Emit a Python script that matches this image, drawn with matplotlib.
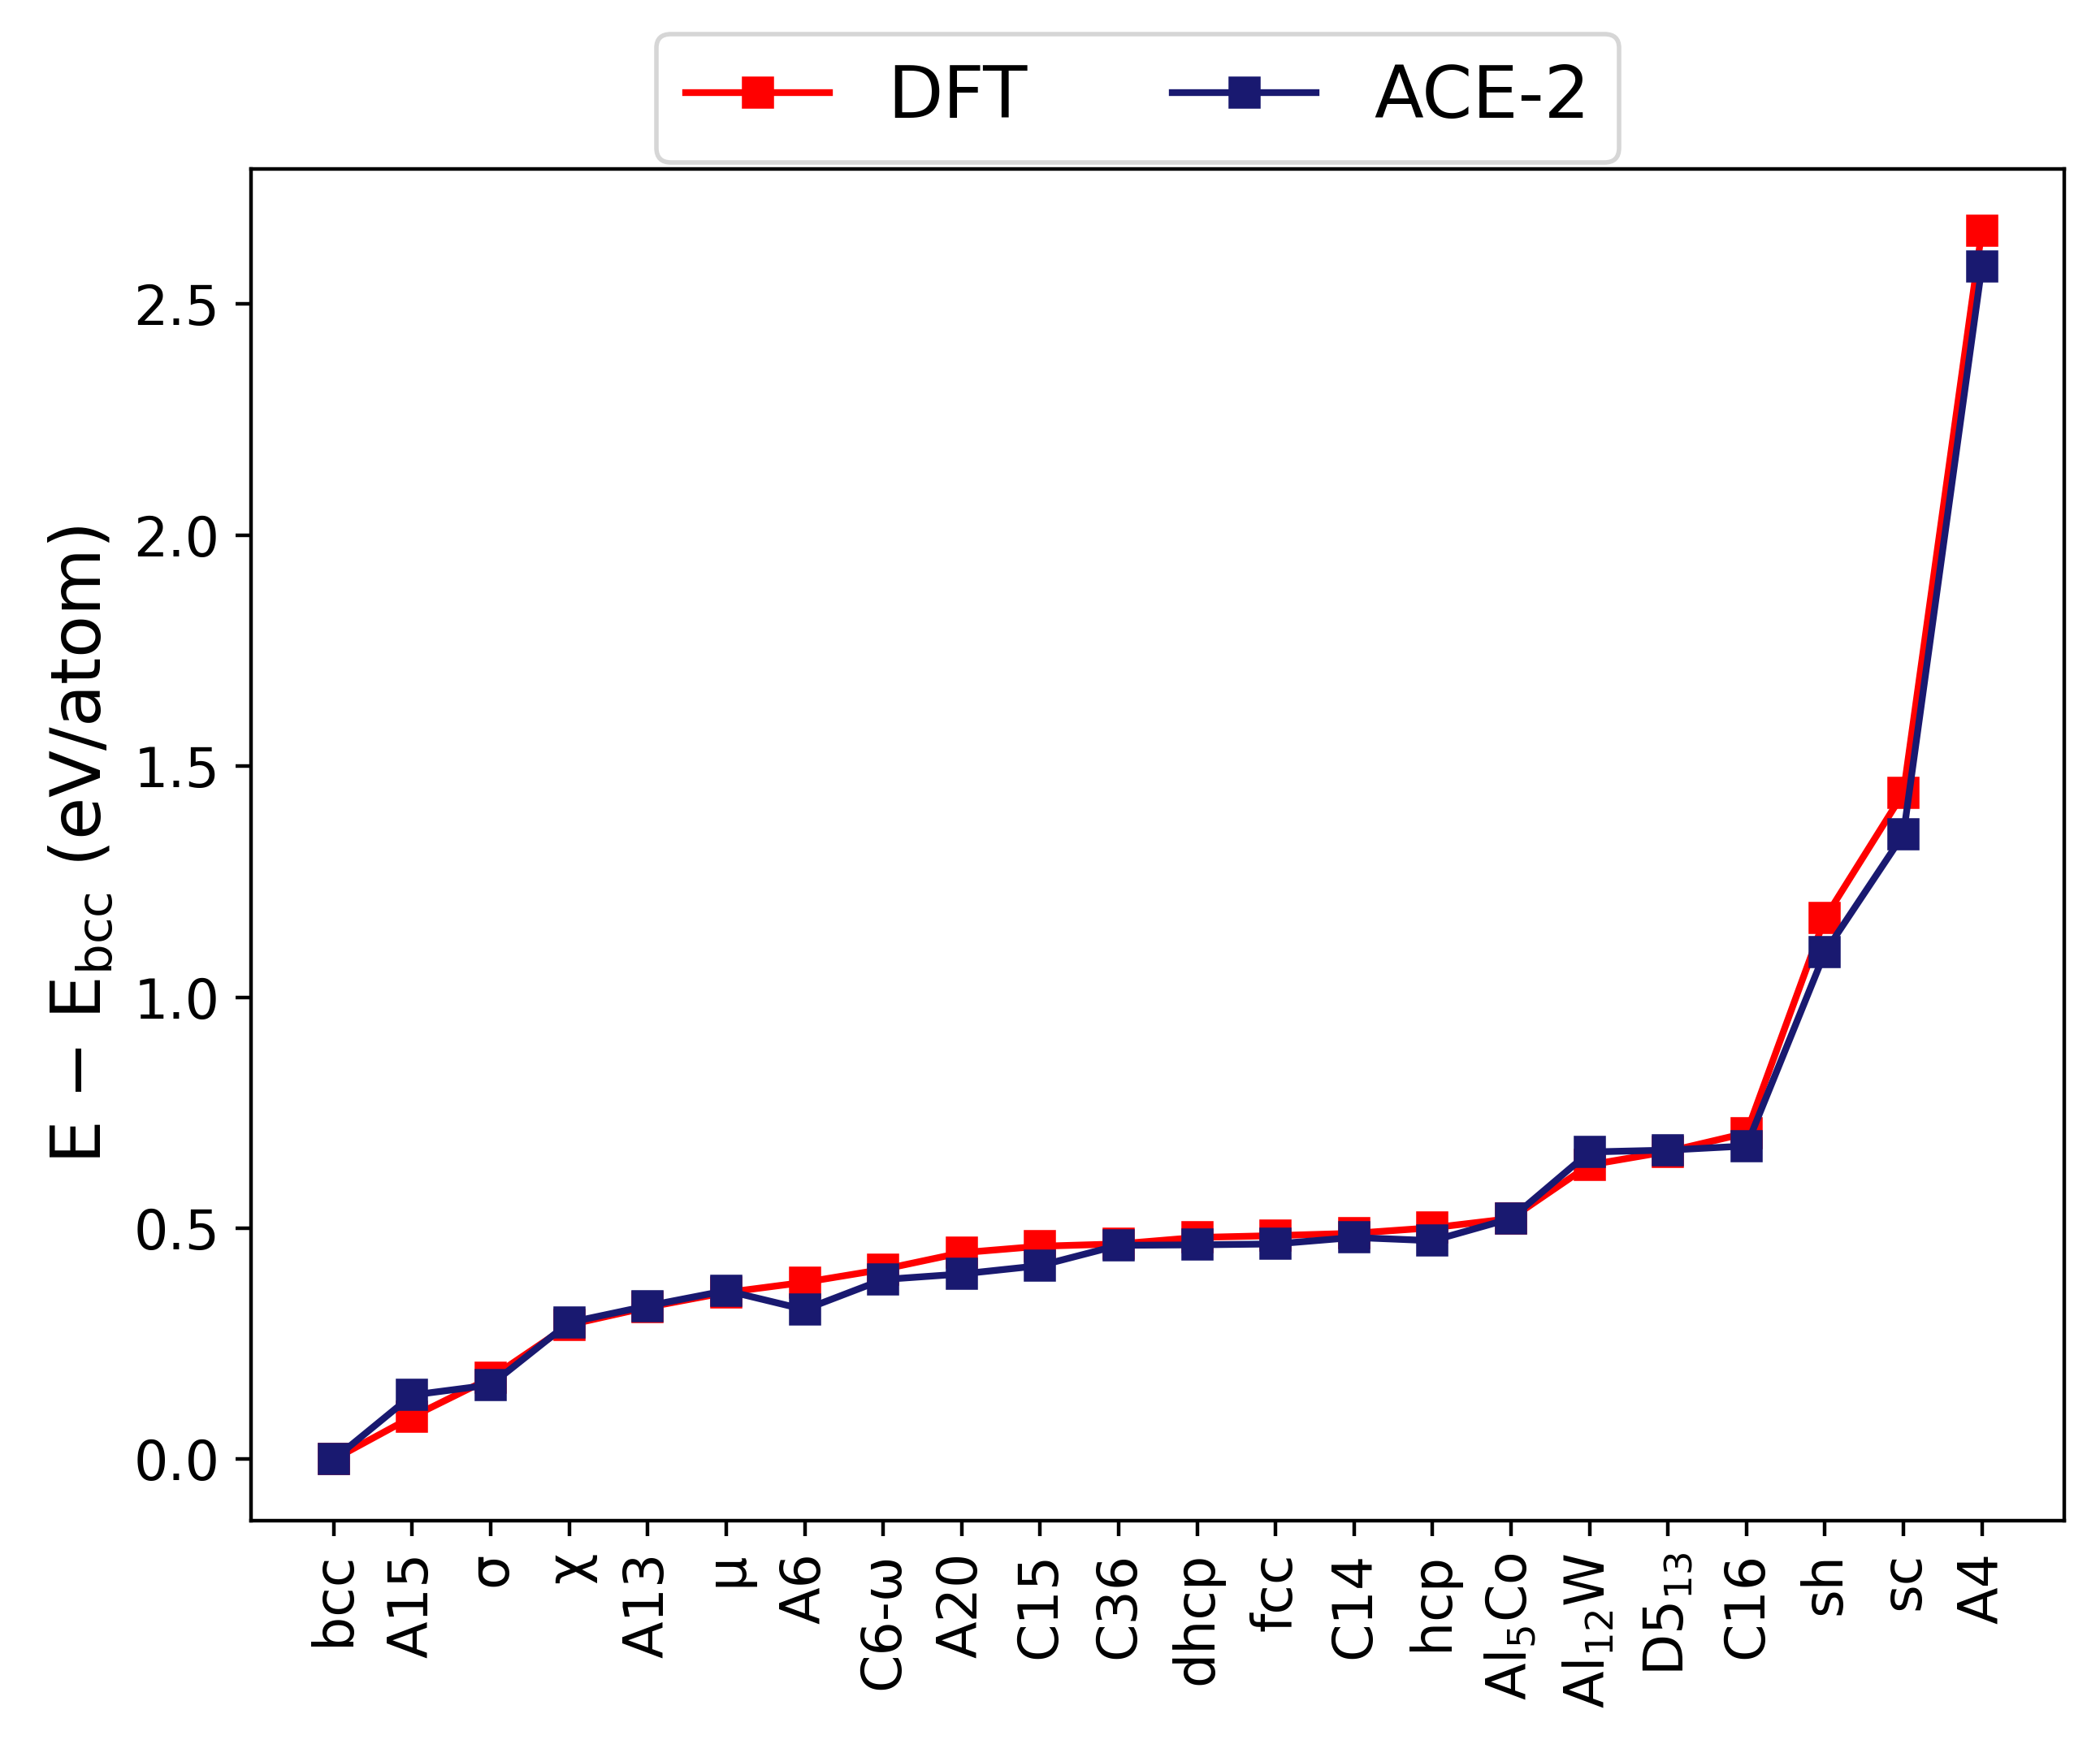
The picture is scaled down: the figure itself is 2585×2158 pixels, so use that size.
import numpy as np
import matplotlib
matplotlib.use('Agg')
from matplotlib import pyplot as plt

structures = ['bcc', 'A15', 'σ', 'χ', 'A13', 'μ', 'A6', 'C6-ω', 'A20', 'C15',
              'C36', 'dhcp', 'fcc', 'C14', 'hcp', 'Al$_5$Co', 'Al$_{12}$W',
              'D5$_{13}$', 'C16', 'sh', 'sc', 'A4']

dft = [0.0, 0.092, 0.176, 0.291, 0.329, 0.361, 0.383, 0.411, 0.447, 0.461,
       0.466, 0.480, 0.484, 0.489, 0.501, 0.521, 0.637, 0.666, 0.706,
       1.171, 1.442, 2.659]
ace2 = [0.0, 0.139, 0.161, 0.296, 0.332, 0.365, 0.324, 0.389, 0.401, 0.419,
        0.463, 0.464, 0.466, 0.480, 0.473, 0.521, 0.665, 0.669, 0.678,
        1.097, 1.352, 2.581]

fig = plt.figure(figsize=(6.4625, 5.395), dpi=400)
ax = fig.add_axes([0.1197, 0.1325, 0.9830 - 0.1197, 0.9036 - 0.1325])

x = np.arange(len(structures))
ax.plot(x, dft, 's-', color='red', label='DFT')
ax.plot(x, ace2, 's-', color='midnightblue', label='ACE-2')

ax.set_xticks(x)
ax.set_xticklabels(structures, rotation=90, fontsize=12)
ax.tick_params(axis='y', labelsize=12)
ax.set_ylabel('E − E$_{\\rm bcc}$ (eV/atom)', fontsize=15.3)

ax.legend(loc='lower center', bbox_to_anchor=(0.489, 1.005), ncol=2,
          fontsize=16, borderaxespad=0)

plt.savefig('out.png', dpi=400)
